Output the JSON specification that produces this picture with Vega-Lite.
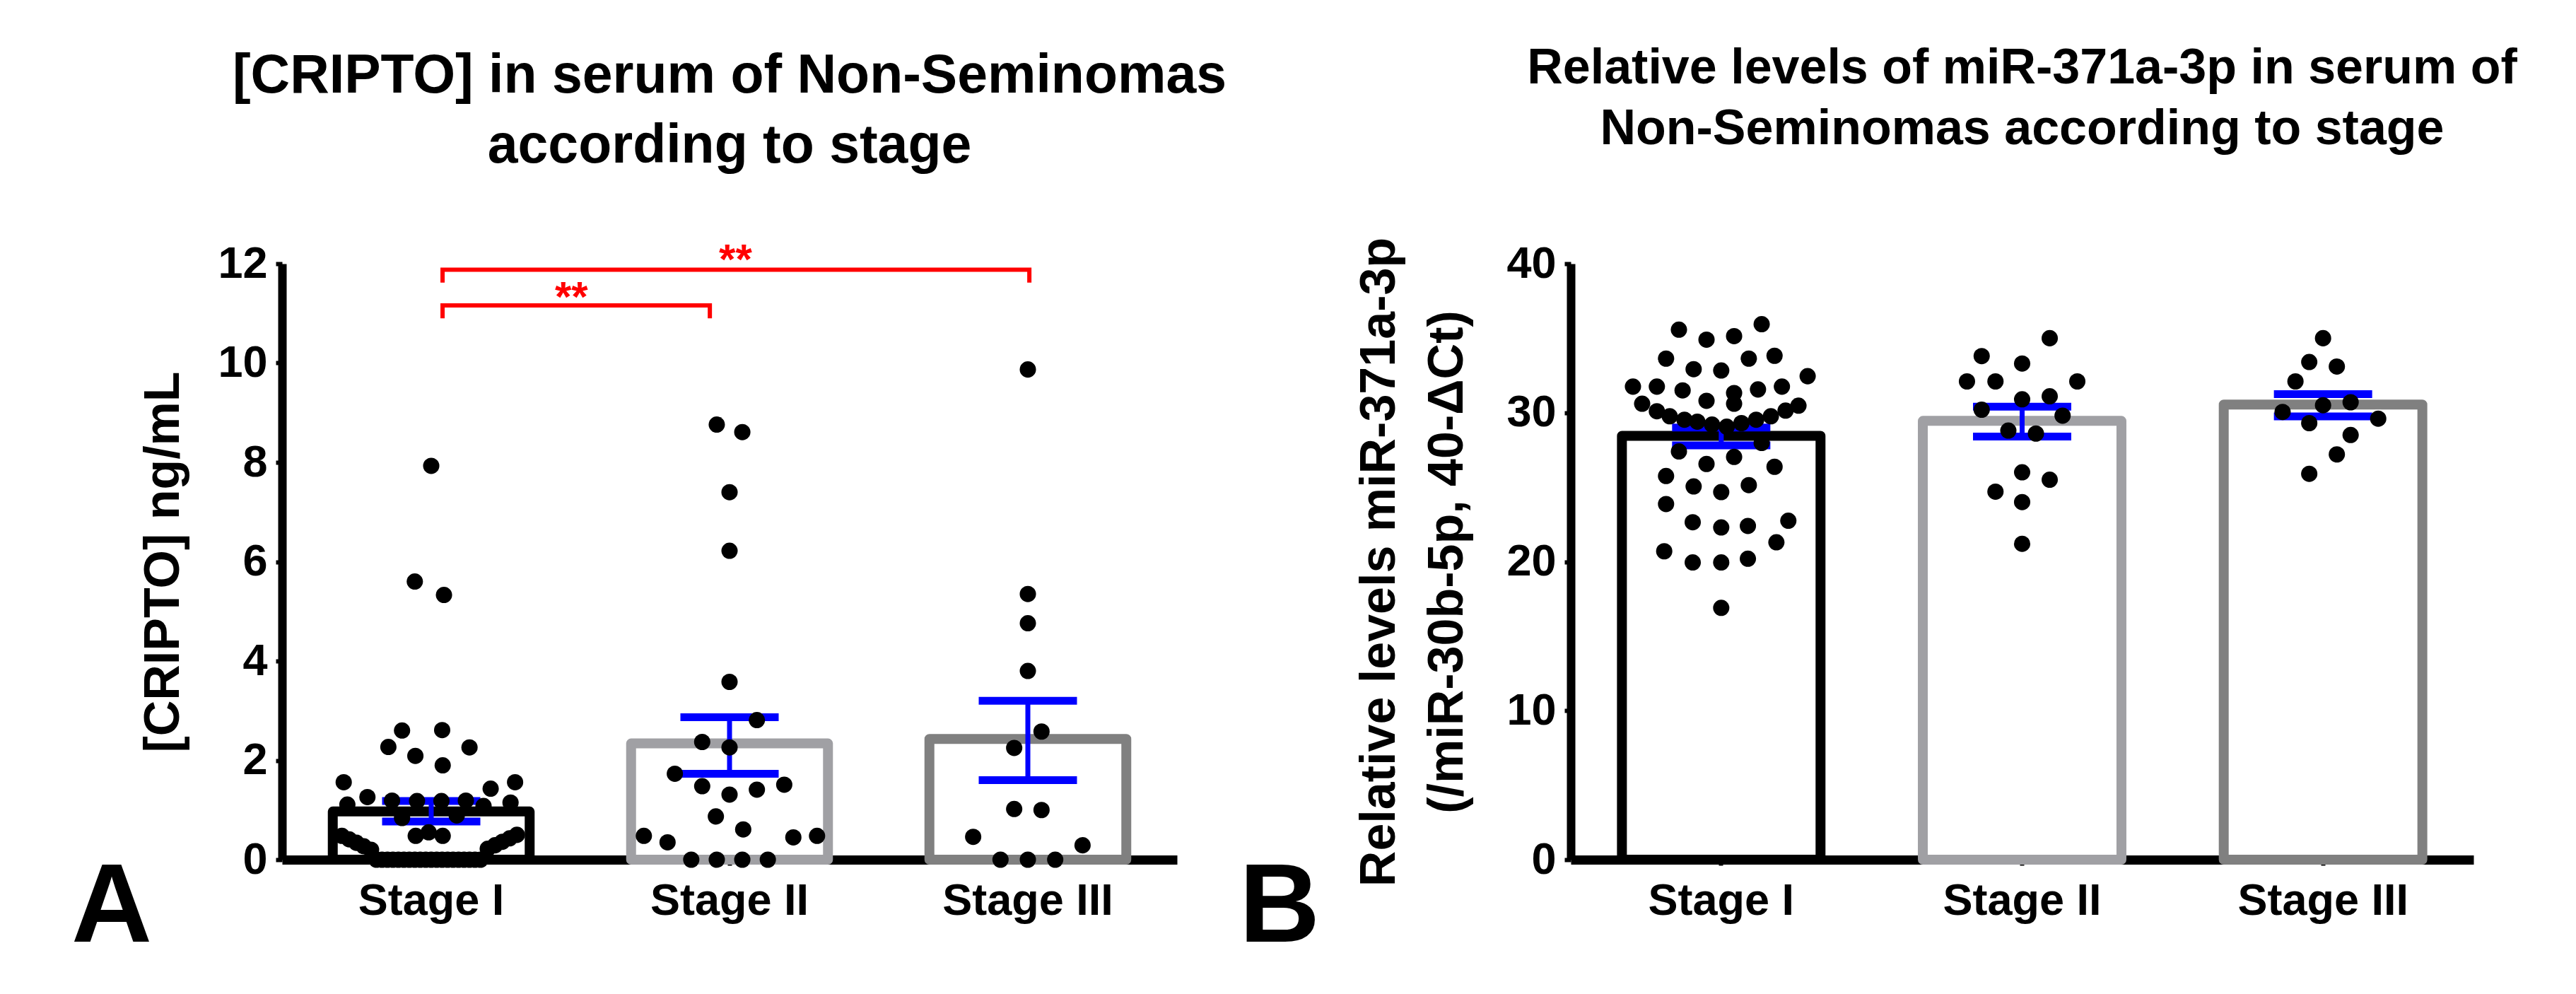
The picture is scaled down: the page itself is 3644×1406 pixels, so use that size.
{
  "$schema": "https://vega.github.io/schema/vega-lite/v6.json",
  "background": "white",
  "padding": {"left": 100, "top": 62, "right": 10, "bottom": 10},
  "bounds": "flush",
  "spacing": 557,
  "config": {
    "font": "Liberation Sans",
    "view": {"stroke": null},
    "axis": {
      "labelFont": "Liberation Sans", "titleFont": "Liberation Sans",
      "labelFontWeight": "bold", "titleFontWeight": "bold",
      "labelColor": "#000000", "titleColor": "#000000",
      "domainColor": "#000000", "tickColor": "#000000", "grid": false, "labelLimit": 2000
    },
    "title": {"font": "Liberation Sans", "fontWeight": "bold", "color": "#000000"},
    "text": {"font": "Liberation Sans"}
  },
  "datasets": {
    "cripto": [
      {"stage": "Stage I", "value": 7.93, "slot": 0},
      {"stage": "Stage I", "value": 5.6, "slot": -0.9},
      {"stage": "Stage I", "value": 5.33, "slot": 0.7},
      {"stage": "Stage I", "value": 2.60, "slot": -1.6},
      {"stage": "Stage I", "value": 2.61, "slot": 0.6},
      {"stage": "Stage I", "value": 2.27, "slot": -2.35},
      {"stage": "Stage I", "value": 2.09, "slot": -0.87},
      {"stage": "Stage I", "value": 1.90, "slot": 0.63},
      {"stage": "Stage I", "value": 2.26, "slot": 2.1},
      {"stage": "Stage I", "value": 1.56, "slot": -4.8},
      {"stage": "Stage I", "value": 1.56, "slot": 4.6},
      {"stage": "Stage I", "value": 1.43, "slot": 3.26},
      {"stage": "Stage I", "value": 1.26, "slot": -3.5},
      {"stage": "Stage I", "value": 1.11, "slot": -4.6},
      {"stage": "Stage I", "value": 1.19, "slot": -2.15},
      {"stage": "Stage I", "value": 1.18, "slot": -0.78},
      {"stage": "Stage I", "value": 1.18, "slot": 0.56},
      {"stage": "Stage I", "value": 1.19, "slot": 1.9},
      {"stage": "Stage I", "value": 1.08, "slot": 2.87},
      {"stage": "Stage I", "value": 1.15, "slot": 4.35},
      {"stage": "Stage I", "value": 0.84, "slot": -1.6},
      {"stage": "Stage I", "value": 0.89, "slot": 1.4},
      {"stage": "Stage I", "value": 0.48, "slot": -0.85},
      {"stage": "Stage I", "value": 0.55, "slot": -0.14},
      {"stage": "Stage I", "value": 0.48, "slot": 0.63},
      {"stage": "Stage I", "value": 0.48, "slot": -4.9},
      {"stage": "Stage I", "value": 0.41, "slot": -4.5},
      {"stage": "Stage I", "value": 0.34, "slot": -4.1},
      {"stage": "Stage I", "value": 0.27, "slot": -3.7},
      {"stage": "Stage I", "value": 0.2, "slot": -3.3},
      {"stage": "Stage I", "value": 0.5, "slot": 4.7},
      {"stage": "Stage I", "value": 0.43, "slot": 4.3},
      {"stage": "Stage I", "value": 0.36, "slot": 3.9},
      {"stage": "Stage I", "value": 0.29, "slot": 3.5},
      {"stage": "Stage I", "value": 0.22, "slot": 3.1},
      {"stage": "Stage I", "value": 0, "slot": -3.0},
      {"stage": "Stage I", "value": 0, "slot": -2.7},
      {"stage": "Stage I", "value": 0, "slot": -2.4},
      {"stage": "Stage I", "value": 0, "slot": -2.1},
      {"stage": "Stage I", "value": 0, "slot": -1.8},
      {"stage": "Stage I", "value": 0, "slot": -1.5},
      {"stage": "Stage I", "value": 0, "slot": -1.2},
      {"stage": "Stage I", "value": 0, "slot": -0.9},
      {"stage": "Stage I", "value": 0, "slot": -0.6},
      {"stage": "Stage I", "value": 0, "slot": -0.3},
      {"stage": "Stage I", "value": 0, "slot": 0},
      {"stage": "Stage I", "value": 0, "slot": 0.3},
      {"stage": "Stage I", "value": 0, "slot": 0.6},
      {"stage": "Stage I", "value": 0, "slot": 0.9},
      {"stage": "Stage I", "value": 0, "slot": 1.2},
      {"stage": "Stage I", "value": 0, "slot": 1.5},
      {"stage": "Stage I", "value": 0, "slot": 1.8},
      {"stage": "Stage I", "value": 0, "slot": 2.1},
      {"stage": "Stage I", "value": 0, "slot": 2.4},
      {"stage": "Stage I", "value": 0, "slot": 2.7},
      {"stage": "Stage II", "value": 8.76, "slot": -0.7},
      {"stage": "Stage II", "value": 8.61, "slot": 0.7},
      {"stage": "Stage II", "value": 7.40, "slot": 0},
      {"stage": "Stage II", "value": 6.22, "slot": 0},
      {"stage": "Stage II", "value": 3.58, "slot": 0},
      {"stage": "Stage II", "value": 2.81, "slot": 1.5},
      {"stage": "Stage II", "value": 2.37, "slot": -1.5},
      {"stage": "Stage II", "value": 2.26, "slot": 0},
      {"stage": "Stage II", "value": 1.73, "slot": -3.0},
      {"stage": "Stage II", "value": 1.48, "slot": -1.5},
      {"stage": "Stage II", "value": 1.31, "slot": 0},
      {"stage": "Stage II", "value": 1.41, "slot": 1.5},
      {"stage": "Stage II", "value": 1.51, "slot": 3.0},
      {"stage": "Stage II", "value": 0.87, "slot": -0.75},
      {"stage": "Stage II", "value": 0.61, "slot": 0.75},
      {"stage": "Stage II", "value": 0.48, "slot": -4.7},
      {"stage": "Stage II", "value": 0.35, "slot": -3.4},
      {"stage": "Stage II", "value": 0.45, "slot": 3.5},
      {"stage": "Stage II", "value": 0.48, "slot": 4.8},
      {"stage": "Stage II", "value": 0, "slot": -2.1},
      {"stage": "Stage II", "value": 0, "slot": -0.7},
      {"stage": "Stage II", "value": 0, "slot": 0.7},
      {"stage": "Stage II", "value": 0, "slot": 2.1},
      {"stage": "Stage III", "value": 9.87, "slot": 0},
      {"stage": "Stage III", "value": 5.35, "slot": 0},
      {"stage": "Stage III", "value": 4.76, "slot": 0},
      {"stage": "Stage III", "value": 3.8, "slot": 0},
      {"stage": "Stage III", "value": 2.58, "slot": 0.75},
      {"stage": "Stage III", "value": 2.25, "slot": -0.75},
      {"stage": "Stage III", "value": 1.02, "slot": -0.75},
      {"stage": "Stage III", "value": 1.0, "slot": 0.75},
      {"stage": "Stage III", "value": 0.46, "slot": -3.0},
      {"stage": "Stage III", "value": 0.29, "slot": 3.0},
      {"stage": "Stage III", "value": 0, "slot": -1.5},
      {"stage": "Stage III", "value": 0, "slot": 0},
      {"stage": "Stage III", "value": 0, "slot": 1.5}
    ],
    "cripto_summary": [
      {"stage": "Stage I", "mean": 0.97, "lo": 0.77, "hi": 1.18},
      {"stage": "Stage II", "mean": 2.34, "lo": 1.73, "hi": 2.87},
      {"stage": "Stage III", "mean": 2.43, "lo": 1.6, "hi": 3.2}
    ],
    "cripto_brackets": [
      {"pair": "I-II", "seq": 1, "pos": 1.038, "v": 10.9},
      {"pair": "I-II", "seq": 2, "pos": 1.038, "v": 11.16},
      {"pair": "I-II", "seq": 3, "pos": 1.934, "v": 11.16},
      {"pair": "I-II", "seq": 4, "pos": 1.934, "v": 10.9},
      {"pair": "I-III", "seq": 1, "pos": 1.038, "v": 11.62},
      {"pair": "I-III", "seq": 2, "pos": 1.038, "v": 11.88},
      {"pair": "I-III", "seq": 3, "pos": 3.005, "v": 11.88},
      {"pair": "I-III", "seq": 4, "pos": 3.005, "v": 11.62}
    ],
    "cripto_stars": [
      {"pair": "I-II", "pos": 1.47, "v": 11.05, "label": "**"},
      {"pair": "I-III", "pos": 2.02, "v": 11.8, "label": "**"}
    ],
    "cripto_letter": [
      {"pos": -0.071, "v": -1.65, "label": "A"}
    ],
    "mir": [
      {"stage": "Stage I", "value": 35.57, "slot": -2.3},
      {"stage": "Stage I", "value": 34.9, "slot": -0.8},
      {"stage": "Stage I", "value": 35.14, "slot": 0.7},
      {"stage": "Stage I", "value": 35.94, "slot": 2.2},
      {"stage": "Stage I", "value": 33.63, "slot": -3.0},
      {"stage": "Stage I", "value": 32.92, "slot": -1.5},
      {"stage": "Stage I", "value": 32.83, "slot": 0},
      {"stage": "Stage I", "value": 33.63, "slot": 1.5},
      {"stage": "Stage I", "value": 33.82, "slot": 2.9},
      {"stage": "Stage I", "value": 31.75, "slot": -4.8},
      {"stage": "Stage I", "value": 31.75, "slot": -3.5},
      {"stage": "Stage I", "value": 31.5, "slot": -2.1},
      {"stage": "Stage I", "value": 30.8, "slot": -0.8},
      {"stage": "Stage I", "value": 31.32, "slot": 0.7},
      {"stage": "Stage I", "value": 30.6, "slot": 0.7},
      {"stage": "Stage I", "value": 31.56, "slot": 2.0},
      {"stage": "Stage I", "value": 31.75, "slot": 3.3},
      {"stage": "Stage I", "value": 32.45, "slot": 4.7},
      {"stage": "Stage I", "value": 30.6, "slot": -4.3},
      {"stage": "Stage I", "value": 30.1, "slot": -3.5},
      {"stage": "Stage I", "value": 29.76, "slot": -2.8},
      {"stage": "Stage I", "value": 29.53, "slot": -2.0},
      {"stage": "Stage I", "value": 29.4, "slot": -1.3},
      {"stage": "Stage I", "value": 29.2, "slot": -0.5},
      {"stage": "Stage I", "value": 29.06, "slot": 0.3},
      {"stage": "Stage I", "value": 29.3, "slot": 1.1},
      {"stage": "Stage I", "value": 29.53, "slot": 1.9},
      {"stage": "Stage I", "value": 29.76, "slot": 2.7},
      {"stage": "Stage I", "value": 30.14, "slot": 3.5},
      {"stage": "Stage I", "value": 30.47, "slot": 4.2},
      {"stage": "Stage I", "value": 27.4, "slot": -2.3},
      {"stage": "Stage I", "value": 26.56, "slot": -0.8},
      {"stage": "Stage I", "value": 27.03, "slot": 0.7},
      {"stage": "Stage I", "value": 27.97, "slot": 2.2},
      {"stage": "Stage I", "value": 26.37, "slot": 2.9},
      {"stage": "Stage I", "value": 25.75, "slot": -3.0},
      {"stage": "Stage I", "value": 25.05, "slot": -1.5},
      {"stage": "Stage I", "value": 24.67, "slot": 0},
      {"stage": "Stage I", "value": 25.14, "slot": 1.5},
      {"stage": "Stage I", "value": 23.87, "slot": -3.0},
      {"stage": "Stage I", "value": 22.65, "slot": -1.55},
      {"stage": "Stage I", "value": 22.3, "slot": 0},
      {"stage": "Stage I", "value": 22.4, "slot": 1.45},
      {"stage": "Stage I", "value": 22.75, "slot": 3.65},
      {"stage": "Stage I", "value": 20.7, "slot": -3.1},
      {"stage": "Stage I", "value": 19.95, "slot": -1.55},
      {"stage": "Stage I", "value": 19.95, "slot": 0},
      {"stage": "Stage I", "value": 20.2, "slot": 1.45},
      {"stage": "Stage I", "value": 21.3, "slot": 3.0},
      {"stage": "Stage I", "value": 16.9, "slot": 0},
      {"stage": "Stage II", "value": 35.0, "slot": 1.5},
      {"stage": "Stage II", "value": 33.8, "slot": -2.2},
      {"stage": "Stage II", "value": 33.3, "slot": 0},
      {"stage": "Stage II", "value": 32.1, "slot": -3.0},
      {"stage": "Stage II", "value": 32.1, "slot": -1.45},
      {"stage": "Stage II", "value": 32.1, "slot": 3.0},
      {"stage": "Stage II", "value": 31.1, "slot": 1.5},
      {"stage": "Stage II", "value": 30.9, "slot": 0},
      {"stage": "Stage II", "value": 30.2, "slot": -2.2},
      {"stage": "Stage II", "value": 29.8, "slot": 2.2},
      {"stage": "Stage II", "value": 28.8, "slot": -0.75},
      {"stage": "Stage II", "value": 28.6, "slot": 0.75},
      {"stage": "Stage II", "value": 26.0, "slot": 0},
      {"stage": "Stage II", "value": 25.5, "slot": 1.5},
      {"stage": "Stage II", "value": 24.7, "slot": -1.45},
      {"stage": "Stage II", "value": 24.0, "slot": 0},
      {"stage": "Stage II", "value": 21.2, "slot": 0},
      {"stage": "Stage III", "value": 35.0, "slot": 0},
      {"stage": "Stage III", "value": 33.4, "slot": -0.75},
      {"stage": "Stage III", "value": 33.1, "slot": 0.75},
      {"stage": "Stage III", "value": 32.1, "slot": -1.5},
      {"stage": "Stage III", "value": 30.5, "slot": 0},
      {"stage": "Stage III", "value": 30.7, "slot": 1.5},
      {"stage": "Stage III", "value": 30.05, "slot": -2.2},
      {"stage": "Stage III", "value": 29.3, "slot": -0.75},
      {"stage": "Stage III", "value": 29.6, "slot": 3.0},
      {"stage": "Stage III", "value": 28.5, "slot": 1.5},
      {"stage": "Stage III", "value": 27.2, "slot": 0.75},
      {"stage": "Stage III", "value": 25.9, "slot": -0.75}
    ],
    "mir_summary": [
      {"stage": "Stage I", "mean": 28.45, "lo": 27.8, "hi": 29.0},
      {"stage": "Stage II", "mean": 29.45, "lo": 28.4, "hi": 30.4},
      {"stage": "Stage III", "mean": 30.55, "lo": 29.75, "hi": 31.25}
    ],
    "mir_letter": [
      {"pos": -0.468, "v": -5.5, "label": "B"}
    ]
  },
  "hconcat": [
    {
      "width": 1266,
      "height": 843,
      "title": {
        "text": ["[CRIPTO] in serum of Non-Seminomas", "according to stage"],
        "fontSize": 77, "lineHeight": 99, "offset": 93, "anchor": "middle", "frame": "group"
      },
      "resolve": {"scale": {"x": "independent", "xOffset": "independent"}},
      "layer": [
        {
          "layer": [
            {
              "data": {"name": "cripto_summary"},
              "mark": {"type": "bar", "fill": "white", "strokeWidth": 14, "strokeJoin": "round"},
              "encoding": {
                "x": {
                  "field": "stage", "type": "nominal",
                  "scale": {"domain": ["Stage I", "Stage II", "Stage III"], "paddingInner": 0.34, "paddingOuter": 0.17},
                  "axis": {"title": null, "labelAngle": 0, "labelFontSize": 63, "labelPadding": 19, "tickSize": 8, "tickWidth": 6, "domainWidth": 13}
                },
                "y": {
                  "field": "mean", "type": "quantitative",
                  "scale": {"domain": [0, 12], "nice": false},
                  "axis": {"title": "[CRIPTO] ng/mL", "titleFontSize": 70, "titlePadding": 40, "values": [0, 2, 4, 6, 8, 10, 12], "format": "d", "labelFontSize": 63, "labelPadding": 12, "tickSize": 9, "tickWidth": 6, "domainWidth": 12}
                },
                "stroke": {
                  "field": "stage", "type": "nominal",
                  "scale": {"domain": ["Stage I", "Stage II", "Stage III"], "range": ["#000000", "#a0a0a4", "#808080"]},
                  "legend": null
                }
              }
            },
            {
              "data": {"name": "cripto_summary"},
              "mark": {"type": "rule", "color": "#0000ff", "strokeWidth": 7},
              "encoding": {
                "x": {"field": "stage", "type": "nominal"},
                "y": {"field": "lo", "type": "quantitative", "scale": {"domain": [0, 12], "nice": false}},
                "y2": {"field": "hi"}
              }
            },
            {
              "data": {"name": "cripto_summary"},
              "mark": {"type": "tick", "color": "#0000ff", "size": 139, "thickness": 11, "opacity": 1},
              "encoding": {
                "x": {"field": "stage", "type": "nominal"},
                "y": {"field": "lo", "type": "quantitative", "scale": {"domain": [0, 12], "nice": false}}
              }
            },
            {
              "data": {"name": "cripto_summary"},
              "mark": {"type": "tick", "color": "#0000ff", "size": 139, "thickness": 11, "opacity": 1},
              "encoding": {
                "x": {"field": "stage", "type": "nominal"},
                "y": {"field": "hi", "type": "quantitative", "scale": {"domain": [0, 12], "nice": false}}
              }
            }
          ]
        },
        {
          "data": {"name": "cripto"},
          "mark": {"type": "circle", "size": 530, "color": "#000000", "opacity": 1},
          "encoding": {
            "x": {"field": "stage", "type": "nominal", "scale": {"type": "band", "domain": ["Stage I", "Stage II", "Stage III"], "paddingInner": 0.34, "paddingOuter": 0.17}, "axis": null},
            "xOffset": {"field": "slot", "type": "quantitative", "scale": {"domain": [-5.4, 5.4]}},
            "y": {"field": "value", "type": "quantitative", "scale": {"domain": [0, 12], "nice": false}}
          }
        },
        {
          "layer": [
            {
              "data": {"name": "cripto_brackets"},
              "mark": {"type": "line", "color": "#ff0000", "strokeWidth": 6, "strokeJoin": "miter", "strokeCap": "butt"},
              "encoding": {
                "x": {"field": "pos", "type": "quantitative", "scale": {"domain": [0.5, 3.5], "nice": false, "zero": false}, "axis": null},
                "y": {"field": "v", "type": "quantitative", "scale": {"domain": [0, 12], "nice": false}},
                "detail": {"field": "pair"},
                "order": {"field": "seq", "type": "quantitative"}
              }
            },
            {
              "data": {"name": "cripto_stars"},
              "mark": {"type": "text", "color": "#ff0000", "fontSize": 60, "fontWeight": "bold", "align": "center", "baseline": "alphabetic"},
              "encoding": {
                "x": {"field": "pos", "type": "quantitative"},
                "y": {"field": "v", "type": "quantitative", "scale": {"domain": [0, 12], "nice": false}},
                "text": {"field": "label"}
              }
            },
            {
              "data": {"name": "cripto_letter"},
              "mark": {"type": "text", "color": "#000000", "fontSize": 158, "fontWeight": "bold", "align": "center", "baseline": "alphabetic"},
              "encoding": {
                "x": {"field": "pos", "type": "quantitative"},
                "y": {"field": "v", "type": "quantitative", "scale": {"domain": [0, 12], "nice": false}},
                "text": {"field": "label"}
              }
            }
          ]
        }
      ]
    },
    {
      "width": 1277,
      "height": 843,
      "title": {
        "text": ["Relative levels of miR-371a-3p in serum of", "Non-Seminomas according to stage"],
        "fontSize": 70, "lineHeight": 86, "offset": 116, "anchor": "middle", "frame": "group"
      },
      "resolve": {"scale": {"x": "independent", "xOffset": "independent"}},
      "layer": [
        {
          "layer": [
            {
              "data": {"name": "mir_summary"},
              "mark": {"type": "bar", "fill": "white", "strokeWidth": 14, "strokeJoin": "round"},
              "encoding": {
                "x": {
                  "field": "stage", "type": "nominal",
                  "scale": {"domain": ["Stage I", "Stage II", "Stage III"], "paddingInner": 0.34, "paddingOuter": 0.17},
                  "axis": {"title": null, "labelAngle": 0, "labelFontSize": 63, "labelPadding": 19, "tickSize": 8, "tickWidth": 6, "domainWidth": 13}
                },
                "y": {
                  "field": "mean", "type": "quantitative",
                  "scale": {"domain": [0, 40], "nice": false},
                  "axis": {"title": ["Relative levels miR-371a-3p", "(/miR-30b-5p, 40-ΔCt)"], "titleFontSize": 70, "titleLineHeight": 96, "titlePadding": 47, "values": [0, 10, 20, 30, 40], "format": "d", "labelFontSize": 63, "labelPadding": 12, "tickSize": 9, "tickWidth": 6, "domainWidth": 12}
                },
                "stroke": {
                  "field": "stage", "type": "nominal",
                  "scale": {"domain": ["Stage I", "Stage II", "Stage III"], "range": ["#000000", "#a0a0a4", "#808080"]},
                  "legend": null
                }
              }
            },
            {
              "data": {"name": "mir_summary"},
              "mark": {"type": "rule", "color": "#0000ff", "strokeWidth": 7},
              "encoding": {
                "x": {"field": "stage", "type": "nominal"},
                "y": {"field": "lo", "type": "quantitative", "scale": {"domain": [0, 40], "nice": false}},
                "y2": {"field": "hi"}
              }
            },
            {
              "data": {"name": "mir_summary"},
              "mark": {"type": "tick", "color": "#0000ff", "size": 139, "thickness": 11, "opacity": 1},
              "encoding": {
                "x": {"field": "stage", "type": "nominal"},
                "y": {"field": "lo", "type": "quantitative", "scale": {"domain": [0, 40], "nice": false}}
              }
            },
            {
              "data": {"name": "mir_summary"},
              "mark": {"type": "tick", "color": "#0000ff", "size": 139, "thickness": 11, "opacity": 1},
              "encoding": {
                "x": {"field": "stage", "type": "nominal"},
                "y": {"field": "hi", "type": "quantitative", "scale": {"domain": [0, 40], "nice": false}}
              }
            }
          ]
        },
        {
          "data": {"name": "mir"},
          "mark": {"type": "circle", "size": 530, "color": "#000000", "opacity": 1},
          "encoding": {
            "x": {"field": "stage", "type": "nominal", "scale": {"type": "band", "domain": ["Stage I", "Stage II", "Stage III"], "paddingInner": 0.34, "paddingOuter": 0.17}, "axis": null},
            "xOffset": {"field": "slot", "type": "quantitative", "scale": {"domain": [-5.4, 5.4]}},
            "y": {"field": "value", "type": "quantitative", "scale": {"domain": [0, 40], "nice": false}}
          }
        },
        {
          "data": {"name": "mir_letter"},
          "mark": {"type": "text", "color": "#000000", "fontSize": 158, "fontWeight": "bold", "align": "center", "baseline": "alphabetic"},
          "encoding": {
            "x": {"field": "pos", "type": "quantitative", "scale": {"domain": [0.5, 3.5], "nice": false, "zero": false}, "axis": null},
            "y": {"field": "v", "type": "quantitative", "scale": {"domain": [0, 40], "nice": false}},
            "text": {"field": "label"}
          }
        }
      ]
    }
  ]
}
